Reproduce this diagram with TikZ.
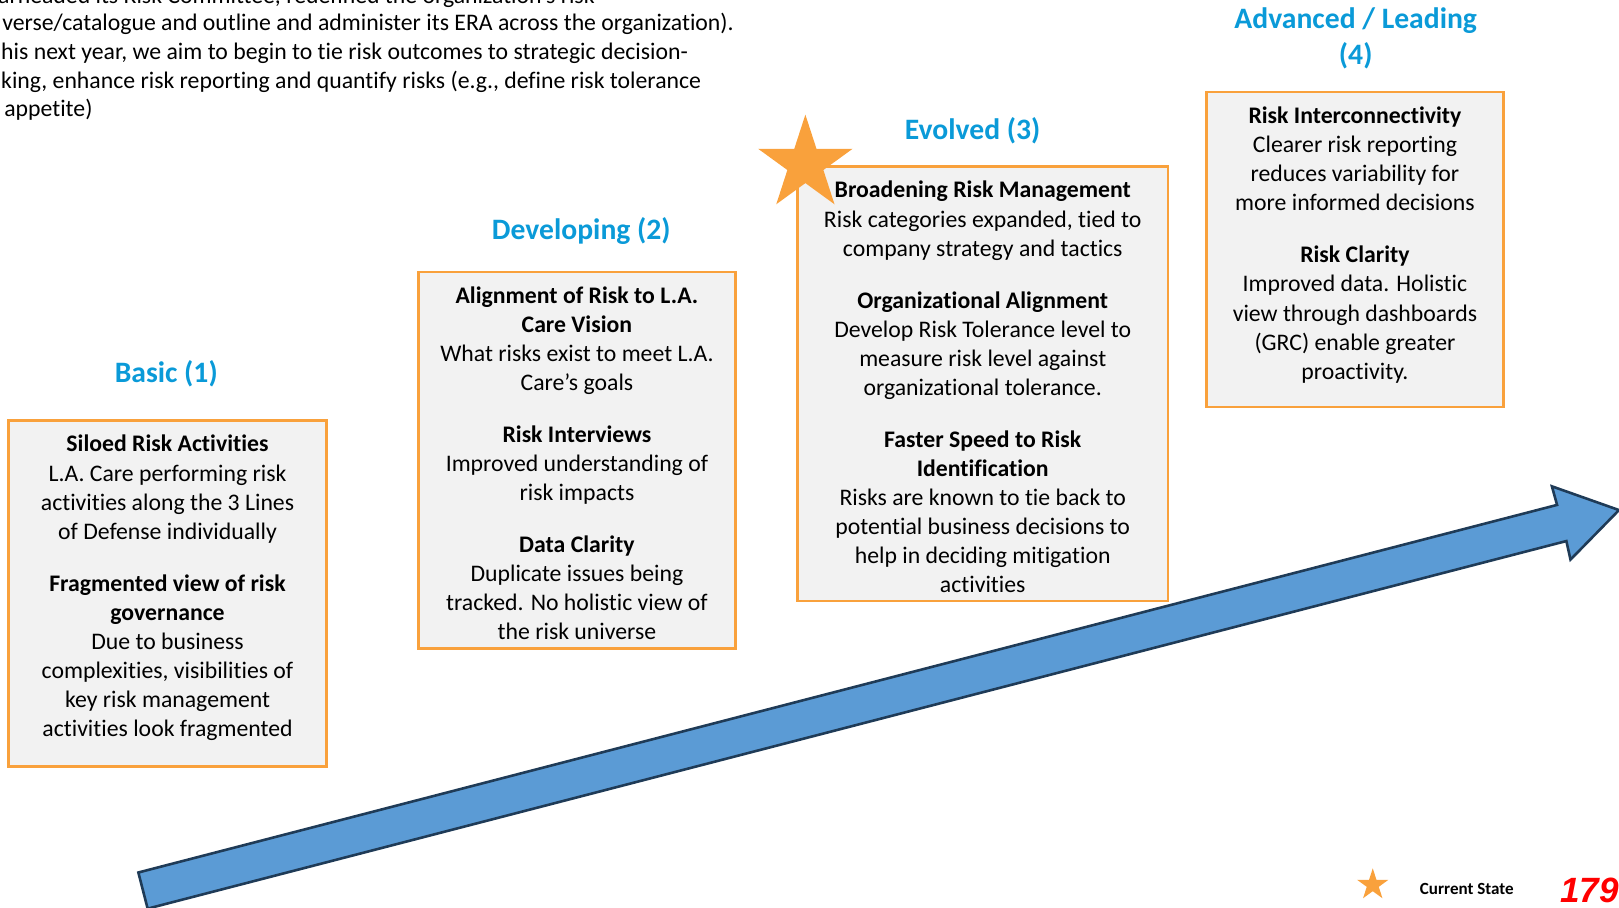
\documentclass[tikz,border=0pt]{standalone}
\usepackage{fontspec}
\setmainfont{Carlito}[Ligatures=NoCommon]
\newfontfamily\arialfont{Liberation Sans}
\usetikzlibrary{shapes.geometric}

\definecolor{stageblue}{HTML}{0A9AD8}
\definecolor{stageorange}{HTML}{F9A13C}
\definecolor{boxgray}{HTML}{F2F2F2}
\definecolor{arrowblue}{HTML}{5B9BD5}
\definecolor{arrowline}{HTML}{1F3B57}

\begin{document}
\begin{tikzpicture}[x=1pt,y=-1pt,
  stagebox/.style={draw=stageorange,fill=boxgray,line width=2.5pt,inner sep=0pt,anchor=north west},
  stagetext/.style={align=center,inner sep=0pt,anchor=north,font=\fontsize{23}{28.2}\selectfont},
  stagehead/.style={align=center,text=stageblue,font=\fontsize{28.7}{35}\selectfont\bfseries},
  introline/.style={anchor=base west,inner sep=0pt,font=\fontsize{23}{28}\selectfont},
  curstar/.style={star,star points=5,star point ratio=2.618,fill=stageorange,inner sep=0pt}]
\useasboundingbox (0,0) rectangle (1568,879);

% Intro text (cut at the page edge)
\node[introline] (intro1) at (-2,3) {arheaded its Risk Committee, redefined the organization’s risk};
\node[introline] (intro2) at (2,30) {verse/catalogue and outline and administer its ERA across the organization).};
\node[introline] (intro3) at (1,58) {his next year, we aim to begin to tie risk outcomes to strategic decision-};
\node[introline] (intro4) at (1,86) {king, enhance risk reporting and quantify risks (e.g., define risk tolerance};
\node[introline] (intro5) at (4,113) {appetite)};

% Maturity arrow
\draw[line width=2.5pt,draw=arrowline,fill=arrowblue,line join=miter]
  (134,845) -- (1508,489) -- (1503,471) -- (1568,494) -- (1521,542) -- (1517,524) -- (143,880) -- cycle;

% Stage 1
\node[stagehead] (basichead) at (161,362) {Basic (1)};
\node[stagebox,minimum width=308,minimum height=335] (basicbox) at (7,406) {};
\node[stagetext] (basictxt) at ([yshift=-11.8pt]basicbox.north) {\strut\textbf{Siloed Risk Activities}\\
  L.A. Care performing risk\\ activities along the 3 Lines\\ of Defense individually\\[22pt]
  \textbf{Fragmented view of risk}\\ \textbf{governance}\\ Due to business\\
  complexities, visibilities of\\ key risk management\\ activities look fragmented};

% Stage 2
\node[stagehead] (develhead) at (563,224) {Developing (2)};
\node[stagebox,minimum width=307,minimum height=365] (develbox) at (404,262) {};
\node[stagetext] (develtxt) at ([yshift=-11.8pt]develbox.north) {\strut\textbf{Alignment of Risk to L.A.}\\
  \textbf{Care Vision}\\ What risks exist to meet L.A.\\ Care’s goals\\[22pt]
  \textbf{Risk Interviews}\\ Improved understanding of\\ risk impacts\\[22pt]
  \textbf{Data Clarity}\\ Duplicate issues being\\ tracked. No holistic view of\\ the risk universe};

% Stage 3 (current state)
\node[stagehead] (evolhead) at (942,127) {Evolved (3)};
\node[stagebox,minimum width=359,minimum height=421] (evolbox) at (771,160) {};
\node[curstar,minimum size=96] (nowstar) at (780,159) {};
\node[stagetext] (evoltxt) at ([yshift=-11.8pt]evolbox.north) {\strut\textbf{Broadening Risk Management}\\
  Risk categories expanded, tied to\\ company strategy and tactics\\[22pt]
  \textbf{Organizational Alignment}\\ Develop Risk Tolerance level to\\ measure risk level against\\
  organizational tolerance.\\[22pt]
  \textbf{Faster Speed to Risk}\\ \textbf{Identification}\\ Risks are known to tie back to\\
  potential business decisions to\\ help in deciding mitigation\\ activities};

% Stage 4
\node[stagehead] (advhead) at (1313,37.5) {Advanced / Leading\\(4)};
\node[stagebox,minimum width=288,minimum height=305] (advbox) at (1167,88) {};
\node[stagetext] (advtxt) at ([yshift=-11.8pt]advbox.north) {\strut\textbf{Risk Interconnectivity}\\
  Clearer risk reporting\\ reduces variability for\\ more informed decisions\\[22pt]
  \textbf{Risk Clarity}\\ Improved data. Holistic\\ view through dashboards\\
  (GRC) enable greater\\ proactivity.};

% Legend and page number
\node[curstar,minimum size=32] (keystar) at (1329.5,857) {};
\node[anchor=west,inner sep=0pt,font=\fontsize{16.5}{20}\selectfont\bfseries] (keytext) at (1375,861) {Current State};
\node[anchor=base west,inner sep=0pt,text=red,font=\fontsize{34}{40}\selectfont\arialfont\bfseries\itshape] (pagenum) at (1511,874) {179};

\end{tikzpicture}
\end{document}
